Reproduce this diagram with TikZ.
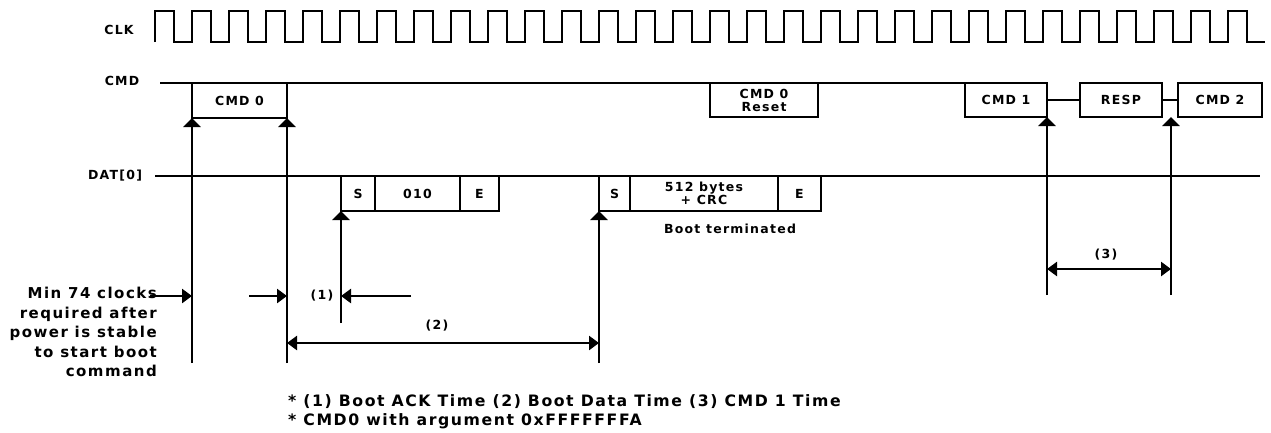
\documentclass[tikz,border=0pt]{standalone}
\usepackage{fontspec}
\setmainfont{DejaVu Sans}[LetterSpace=10]
\usetikzlibrary{arrows.meta}
\begin{document}
\begin{tikzpicture}[x=1pt,y=-1pt,
  sig/.style={line width=2pt},
  arr/.style={line width=2.5pt,-{Triangle[length=9pt,width=17pt]}},
  darr/.style={line width=2.5pt,{Triangle[length=10pt,width=14pt]}-{Triangle[length=10pt,width=14pt]}},
  harr/.style={line width=2.5pt,-{Triangle[length=10pt,width=14pt]}},
  sbox/.style={draw,line width=2.3pt,inner sep=0pt,outer sep=0pt,font=\fontsize{12.5}{13}\selectfont\bfseries,align=center},
  lbl/.style={inner sep=0pt,font=\fontsize{12.5}{13}\selectfont\bfseries,align=center},
  big/.style={inner sep=0pt,font=\fontsize{15}{19.5}\selectfont\bfseries},
  note/.style={inner sep=0pt,font=\fontsize{15.7}{19}\selectfont\bfseries,align=left}
]
\useasboundingbox (0,0) rectangle (1271,432);
% signal labels
\node[lbl] (clk) at (119,30) {CLK};
\node[lbl] (cmd) at (122,81) {CMD};
\node[lbl] (dat) at (115,176) {DAT[0]};
% clock
\draw[sig,line join=miter] (155,42) \foreach \k in {0,...,29} { -- ({155+37*\k},11) -- ({174+37*\k},11) -- ({174+37*\k},42) -- ({192+37*\k},42) };
% CMD boxes
\node[sbox,minimum width=95pt,minimum height=35pt] (cmd0) at (239.5,100.5) {CMD 0};
\node[sbox,minimum width=108pt,minimum height=34pt] (reset) at (764,100) {CMD 0\\[0pt]Reset};
\node[sbox,minimum width=82pt,minimum height=34pt] (cmd1) at (1006,100) {CMD 1};
\node[sbox,minimum width=82pt,minimum height=34pt] (resp) at (1121,100) {RESP};
\node[sbox,minimum width=84pt,minimum height=34pt] (cmd2) at (1220,100) {CMD 2};
\coordinate (cmdst) at (160,83);
\draw[sig] (cmdst) -- (cmd1.north west);
\draw[sig] (cmd1.east) -- (resp.west);
\draw[sig] (resp.east) -- (cmd2.west);
% DAT line and boxes
\coordinate (datst) at (155,176);
\coordinate (daten) at (1260,176);
\draw[sig] (datst) -- (daten);
\node[sbox,minimum width=34pt,minimum height=35pt] (s1) at (358,193.5) {S};
\node[sbox,minimum width=85pt,minimum height=35pt] (d010) at (417.5,193.5) {010};
\node[sbox,minimum width=39pt,minimum height=35pt] (e1) at (479.5,193.5) {E};
\node[sbox,minimum width=31pt,minimum height=35pt] (s2) at (614.5,193.5) {S};
\node[sbox,minimum width=148pt,minimum height=35pt] (data) at (704,193.5) {512 bytes\\[0pt]+ CRC};
\node[sbox,minimum width=43pt,minimum height=35pt] (e2) at (799.5,193.5) {E};
\node[lbl] (bt) at (730,229) {Boot terminated};
% vertical markers
\coordinate (v1) at (192,363);
\coordinate (v2) at (287,363);
\coordinate (v3) at (341,323);
\coordinate (v4) at (599,363);
\coordinate (v5) at (1047,295);
\coordinate (v6) at (1171,295);
\draw[arr] (v1) -- (v1 |- cmd0.south);
\draw[arr] (v2) -- (v2 |- cmd0.south);
\draw[arr] (v3) -- (v3 |- s1.south);
\draw[arr] (v4) -- (v4 |- s2.south);
\draw[arr] (v5) -- (v5 |- cmd1.south);
\draw[arr] (v6) -- (v6 |- cmd2.south);
% horizontal timing arrows
\coordinate (h1s) at (150,296);
\coordinate (h2s) at (249,296);
\coordinate (h3s) at (411,296);
\draw[harr] (h1s) -- (h1s -| v1);
\draw[harr] (h2s) -- (h2s -| v2);
\draw[harr] (h3s) -- (h3s -| v3);
\node[lbl] (t1) at (322,296) {(1)};
\coordinate (h4s) at (287,343);
\draw[darr] (h4s) -- (h4s -| v4);
\node[lbl] (t2) at (437,326) {(2)};
\coordinate (h5s) at (1047,269);
\draw[darr] (h5s) -- (h5s -| v6);
\node[lbl] (t3) at (1106,255) {(3)};
% texts
\node[big,align=right,anchor=east] (min) at (157,332) {Min 74 clocks\\required after\\power is stable\\to start boot\\command};
\node[note,anchor=west] (notes) at (288,411.5) {* (1) Boot ACK Time (2) Boot Data Time (3) CMD 1 Time\\* CMD0 with argument 0xFFFFFFFA};
\end{tikzpicture}
\end{document}
